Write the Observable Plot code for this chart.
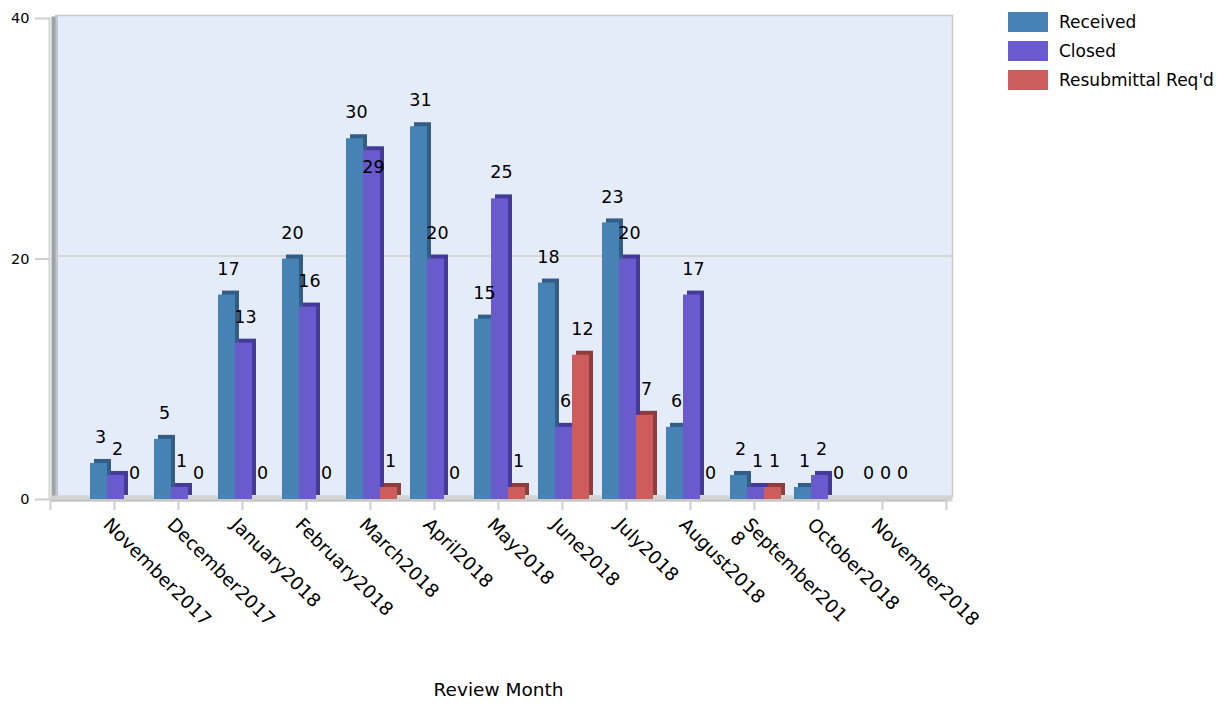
<!DOCTYPE html>
<html>
<head>
<meta charset="utf-8">
<script src="https://cdn.jsdelivr.net/npm/d3@7"></script>
<script src="https://cdn.jsdelivr.net/npm/@observablehq/plot@0.6"></script>
<style>
  html, body { margin: 0; padding: 0; background: #fff; }
  #wrap { position: relative; width: 1232px; height: 706px; font-family: "DejaVu Sans", sans-serif; }
  #legend { position: absolute; left: 1008px; top: 7px; }
  .li { display: flex; align-items: center; height: 29px; font-size: 17px; color: #000; }
  .sw { width: 40px; height: 20px; margin-right: 11px; }
</style>
</head>
<body>
<div id="wrap"></div>
<script>
// ---- data ----
const months = ["November2017","December2017","January2018","February2018","March2018","April2018","May2018","June2018","July2018","August2018","September2018","October2018","November2018"];
const monthLabels = ["November2017","December2017","January2018","February2018","March2018","April2018","May2018","June2018","July2018","August2018","September201\n8","October2018","November2018"];
const received = [3,5,17,20,30,31,15,18,23,6,2,1,0];
const closed   = [2,1,13,16,29,20,25,6,20,17,1,2,0];
const resubmit = [0,0,0,0,1,0,1,12,7,0,1,0,0];
const seriesNames = ["Received","Closed","Resubmittal Req'd"];
const yTicks = [0,20,40];

// ---- styles ----
const colors = ["#4682B4","#6A5ACD","#CD5C5C"];
const sideColors = ["#305e86","#463a98","#8e3c3c"];
const insets = [[8,39],[25,22],[42,5]];
const labelDx = [-14,3,20];

const seriesVals = [received, closed, resubmit];
const rows = seriesVals.map((vals, s) => vals.map((v, i) => ({month: months[i], value: v, s})));

// label collision: closed label pushed into its bar when it overlaps the received label
rows[1].forEach((d, i) => {
  d.shift = received[i] >= 10 && closed[i] >= 10 && Math.abs(received[i] - closed[i]) <= 1;
});
rows[0].forEach(d => d.shift = false);
rows[2].forEach(d => d.shift = false);

const W = 1232, H = 706;
const mL = 50, mR = 286, mT = 18, mB = 207;
const frameW = W - mL - mR;
const step = frameW / (months.length + 1);

const marks = [];
// back wall
marks.push(Plot.frame({fill: "#e5ecf9", stroke: "#c9c9c9", strokeWidth: 1.5, dx: 6, dy: -3}));
// grid line
marks.push(Plot.ruleY([20], {stroke: "#d6d6d6", strokeWidth: 2, dx: 6, dy: -3}));
// left side wall
marks.push(Plot.frame({anchor: "left", stroke: "#c3c6cb", strokeWidth: 3, dx: 6, dy: -2}));
marks.push(Plot.frame({anchor: "left", stroke: "#9ea3aa", strokeWidth: 4, dx: 3}));
marks.push(Plot.frame({anchor: "left", stroke: "#d4d4d4", strokeWidth: 2, dx: -1}));
// floor
marks.push(Plot.frame({anchor: "bottom", stroke: "#d3d3d3", strokeWidth: 6, dy: -1, dx: 3}));
marks.push(Plot.ruleY([0], {stroke: "#c4c4c4", strokeWidth: 2, dy: 1}));
// x ticks
marks.push(Plot.ruleX(months, {x: d => d, y1: 0, y2: 0, insetBottom: -11, stroke: "#cfcfcf", strokeWidth: 2}));
marks.push(Plot.ruleX([months[0]], {x: d => d, y1: 0, y2: 0, insetBottom: -11, dx: -step, stroke: "#cfcfcf", strokeWidth: 2}));
marks.push(Plot.ruleX([months[months.length - 1]], {x: d => d, y1: 0, y2: 0, insetBottom: -11, dx: step, stroke: "#cfcfcf", strokeWidth: 2}));
// y ticks (short, left of the frame)
marks.push(Plot.ruleY(yTicks, {y: d => d, insetLeft: -15, insetRight: frameW, stroke: "#cfcfcf", strokeWidth: 2}));

// bars with 3D sides
seriesVals.forEach((vals, s) => {
  marks.push(Plot.barY(rows[s], {x: "month", y: "value", fill: sideColors[s], insetLeft: insets[s][0], insetRight: insets[s][1], dx: 4, dy: -4, filter: d => d.value > 0}));
  marks.push(Plot.barY(rows[s], {x: "month", y: "value", fill: colors[s], insetLeft: insets[s][0], insetRight: insets[s][1], filter: d => d.value > 0}));
});
// value labels
seriesVals.forEach((vals, s) => {
  marks.push(Plot.text(rows[s], {x: "month", y: "value", text: d => String(d.value), dx: labelDx[s], dy: -26, fontSize: 17.5, fill: "#000", filter: d => !d.shift}));
  marks.push(Plot.text(rows[s], {x: "month", y: "value", text: d => String(d.value), dx: labelDx[s], dy: 17, fontSize: 17.5, fill: "#000", filter: d => d.shift}));
});
// y tick labels
marks.push(Plot.text(yTicks, {y: d => d, text: d => String(d), frameAnchor: "left", textAnchor: "end", dx: -21, fontSize: 14.5, fill: "#000"}));
// x tick labels
marks.push(Plot.text(months, {x: d => d, text: (d, i) => monthLabels[i], frameAnchor: "bottom", rotate: 45, textAnchor: "start", lineAnchor: "top", dx: -3, dy: 17, fontSize: 18.5, fill: "#000"}));
// axis title
marks.push(Plot.text(["Review Month"], {text: d => d, frameAnchor: "bottom", dy: 196, fontSize: 18.5, fill: "#000"}));

const chart = Plot.plot({
  width: W, height: H,
  marginLeft: mL, marginRight: mR, marginTop: mT, marginBottom: mB,
  style: {fontFamily: "DejaVu Sans, sans-serif", background: "transparent", overflow: "visible"},
  x: {type: "band", domain: months, paddingInner: 0, paddingOuter: 0.5, axis: null},
  y: {domain: [0, 40], axis: null},
  marks
});

const wrap = document.getElementById("wrap");
wrap.appendChild(chart);
const legend = document.createElement("div");
legend.id = "legend";
seriesNames.forEach((name, s) => {
  const li = document.createElement("div");
  li.className = "li";
  const sw = document.createElement("div");
  sw.className = "sw";
  sw.style.background = colors[s];
  const t = document.createElement("span");
  t.textContent = name;
  li.appendChild(sw); li.appendChild(t);
  legend.appendChild(li);
});
wrap.appendChild(legend);
</script>
</body>
</html>
